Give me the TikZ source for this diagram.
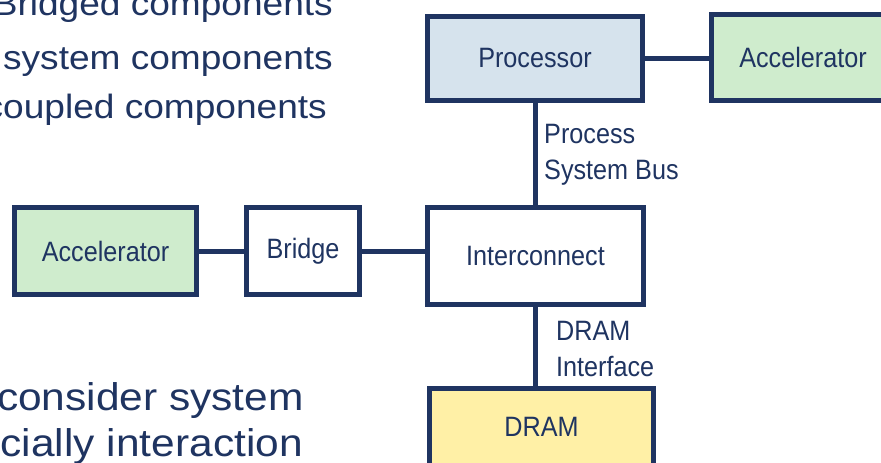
\documentclass[tikz,border=0pt]{standalone}
\usepackage{fontspec}
\setmainfont{Liberation Sans}
\newfontfamily\labelfont[FakeStretch=0.9]{Liberation Sans}
\newfontfamily\bodyfont[FakeStretch=1.1]{Liberation Sans}
\definecolor{navy}{HTML}{1F3461}
\definecolor{procfill}{HTML}{D6E3ED}
\definecolor{accfill}{HTML}{CFECCD}
\definecolor{dramfill}{HTML}{FFF0A6}
\tikzset{
  blk/.style={draw=navy, line width=5pt, inner sep=0pt, text=navy,
    font=\labelfont\fontsize{28}{32}\selectfont},
  wire/.style={draw=navy, line width=5pt},
  lbl/.style={text=navy, align=left, inner sep=0pt,
    font=\labelfont\fontsize{28}{36}\selectfont},
  body/.style={text=navy, inner sep=0pt, font=\bodyfont\fontsize{33.7}{42}\selectfont},
  bodybig/.style={text=navy, inner sep=0pt, font=\bodyfont\fontsize{38.6}{46}\selectfont}
}
\begin{document}
\begin{tikzpicture}[x=1pt,y=-1pt]
\useasboundingbox (0,0) rectangle (881,463);
\clip (0,0) rectangle (881,463);
\fill[white] (0,0) rectangle (881,463);

% slide text
\node[body, anchor=base east] (t1) at (333,15) {Bridged components};
\node[body, anchor=base east] (t2) at (333,69) {system components};
\node[body, anchor=base east] (t3) at (327,118) {coupled components};
\node[bodybig, anchor=base east] (t4) at (304,410) {consider system};
\node[bodybig, anchor=base east] (t5) at (303,456) {cially interaction};

% blocks
\node[blk, fill=procfill, minimum width=215pt, minimum height=84pt] (proc) at (535,58.5) {Processor};
\node[blk, fill=accfill, minimum width=183pt, minimum height=86pt] (accR) at (803,57) {Accelerator};
\node[blk, fill=accfill, minimum width=182pt, minimum height=87pt] (accL) at (105.5,251) {Accelerator};
\node[blk, fill=white, minimum width=113pt, minimum height=87pt] (bridge) at (303,251) {Bridge};
\node[blk, fill=white, minimum width=216pt, minimum height=97pt] (ic) at (535.5,256) {Interconnect};
\node[blk, fill=dramfill, minimum width=224pt, minimum height=77pt] (dram) at (541.5,427) {DRAM};

% connections
\draw[wire] (proc.east) -- (proc.east -| accR.west);
\draw[wire] (proc.south) -- (proc.south |- ic.north);
\draw[wire] (accL.east) -- (accL.east -| bridge.west);
\draw[wire] (bridge.east) -- (bridge.east -| ic.west);
\draw[wire] (ic.south) -- (ic.south |- dram.north);

% bus labels
\node[lbl, anchor=west] (busA) at (544,155) {Process\\System Bus};
\node[lbl, anchor=west] (busB) at (556,349) {DRAM\\Interface};
\end{tikzpicture}
\end{document}
